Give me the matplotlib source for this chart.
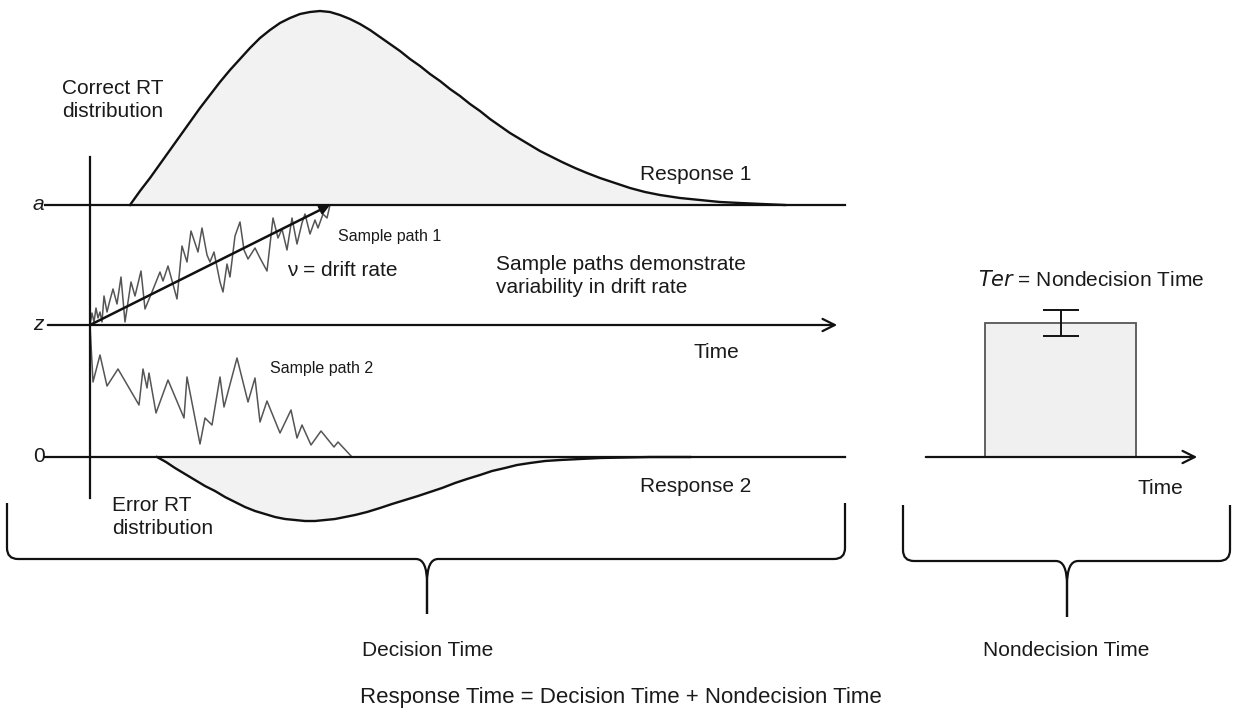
import matplotlib
matplotlib.use("Agg")
import matplotlib.pyplot as plt
from matplotlib.path import Path
from matplotlib.patches import PathPatch, Rectangle
import numpy as np

plt.rcParams['font.family'] = ['Liberation Sans', 'DejaVu Sans']

# everything is laid out in image pixel units (y grows downward)
# boundaries: a (upper), z (start point), 0 (lower)
bound_a = 205
bound_z = 325
bound_0 = 457

# correct RT distribution (upper curve)
correct_x = [130, 140, 150, 160, 170, 180, 190, 200, 210, 220, 230, 240, 250, 260, 270,
             280, 290, 300, 310, 320, 330, 340, 350, 360, 370, 380, 390, 400, 410, 420,
             430, 440, 450, 460, 470, 480, 490, 500, 510, 520, 530, 540, 550, 562, 575,
             587, 600, 615, 630, 645, 660, 680, 700, 720, 740, 762, 785]
correct_y = [205, 191, 178, 164, 150, 136, 122, 108, 95, 82, 70, 59, 48, 38, 30,
             23, 18, 14, 12, 11, 12, 15, 19, 24, 30, 37, 44, 51, 59, 66,
             74, 81, 89, 96, 104, 111, 119, 126, 133, 139, 145, 151, 156, 162, 168,
             173, 178, 183, 188, 192, 195, 198, 200, 202, 203, 204, 205]

# error RT distribution (lower curve)
error_x = [157, 166, 175, 185, 195, 205, 215, 225, 235, 245, 255, 265, 275, 285, 295,
           305, 315, 325, 335, 345, 355, 367, 380, 392, 405, 418, 430, 442, 455, 467,
           480, 492, 505, 517, 530, 545, 560, 580, 600, 625, 650, 670, 690]
error_y = [457, 462, 468, 474, 480, 486, 491, 497, 502, 507, 511, 514, 517, 519, 520,
           521, 521, 520, 519, 517, 515, 512, 508, 504, 500, 496, 492, 488, 483, 479,
           475, 471, 468, 465, 463, 461, 460, 459, 458, 457.5, 457, 457, 457]

# sample path 1 (hits upper boundary)
path1_x = [90, 92, 94, 96, 98, 100, 102, 104, 107, 110, 113, 117, 121, 125, 131, 135,
           141, 145, 152, 160, 163, 168, 177, 182, 187, 191, 198, 202, 207, 210, 214,
           220, 223, 227, 230, 235, 240, 244, 248, 255, 260, 267, 273, 278, 282, 287,
           292, 297, 302, 305, 310, 315, 318, 323, 327, 330]
path1_y = [325, 313, 322, 308, 318, 312, 322, 296, 312, 300, 289, 304, 277, 322, 282, 296,
           271, 309, 292, 272, 281, 266, 299, 246, 262, 231, 252, 228, 255, 262, 252,
           282, 292, 264, 277, 236, 222, 250, 259, 248, 258, 271, 218, 238, 229, 250,
           218, 244, 223, 214, 234, 220, 228, 214, 218, 205]

# sample path 2 (hits lower boundary)
path2_x = [90, 93, 100, 107, 118, 139, 143, 147, 149, 156, 168, 184, 187, 200, 205, 212,
           220, 224, 237, 248, 255, 260, 267, 280, 291, 297, 302, 311, 321, 334, 338, 352]
path2_y = [325, 382, 355, 386, 369, 405, 369, 388, 373, 413, 380, 418, 377, 444, 418, 425,
           377, 407, 358, 402, 378, 422, 401, 433, 410, 438, 425, 445, 431, 447, 442, 457]

# nondecision time bar (right panel)
ter_left = 985
ter_right = 1136
ter_top = 323
ter_err = 13

fig = plt.figure(figsize=(12.39, 7.15), dpi=100)
ax = fig.add_axes([0, 0, 1, 1])
ax.set_xlim(0, 1239)
ax.set_ylim(715, 0)
ax.axis('off')

fill_col = '#f2f2f2'
ink = '#111111'
txt = '#1a1a1a'

# distributions
ax.fill_between(correct_x, correct_y, bound_a, color=fill_col, zorder=1)
ax.plot(correct_x, correct_y, color=ink, lw=1.7, zorder=3, solid_joinstyle='round')
ax.fill_between(error_x, error_y, bound_0, color=fill_col, zorder=1)
ax.plot(error_x, error_y, color=ink, lw=1.7, zorder=3, solid_joinstyle='round')

# boundaries and axes
ax.plot([45, 845], [bound_a, bound_a], color=ink, lw=1.6, zorder=4)
ax.plot([45, 845], [bound_0, bound_0], color=ink, lw=1.6, zorder=4)
ax.annotate('', xy=(840, bound_z), xytext=(45, bound_z),
            arrowprops=dict(arrowstyle='->', color=ink, lw=1.6,
                            mutation_scale=22), zorder=4)
ax.plot([90, 90], [157, 498], color=ink, lw=1.6, zorder=4)

# sample paths
ax.plot(path1_x, path1_y, color='#555555', lw=1.1, zorder=2)
ax.plot(path2_x, path2_y, color='#555555', lw=1.1, zorder=2)

# drift rate arrow
ax.annotate('', xy=(path1_x[-1], path1_y[-1]), xytext=(path1_x[0], path1_y[0]),
            arrowprops=dict(arrowstyle='-|>', color=ink, lw=1.8,
                            mutation_scale=14, shrinkA=0, shrinkB=0), zorder=5)

# right panel
ax.annotate('', xy=(1200, bound_0), xytext=(923, bound_0),
            arrowprops=dict(arrowstyle='->', color=ink, lw=1.6,
                            mutation_scale=22), zorder=4)
ax.add_patch(Rectangle((ter_left, ter_top), ter_right - ter_left, bound_0 - ter_top,
                       facecolor='#f0f0f0', edgecolor='#555555', lw=1.3, zorder=2))
ter_mid = (ter_left + ter_right) / 2
ax.errorbar([ter_mid], [ter_top], yerr=[ter_err], fmt='none', ecolor=ink,
            elinewidth=1.4, capsize=13, capthick=1.4, zorder=5)


def brace(x0, x1, xm, ytop, ymid, ytip):
    r = 11
    left = [(x0, ytop), (x0, ymid - r), (x0, ymid), (x0 + r, ymid),
            (xm - 11, ymid), (xm, ymid), (xm, ymid + 24), (xm, ytip)]
    right = [(x1, ytop), (x1, ymid - r), (x1, ymid), (x1 - r, ymid),
             (xm + 11, ymid), (xm, ymid), (xm, ymid + 24), (xm, ytip)]
    codes = [Path.MOVETO, Path.LINETO, Path.CURVE3, Path.CURVE3,
             Path.LINETO, Path.CURVE3, Path.CURVE3, Path.LINETO]
    for v in (left, right):
        ax.add_patch(PathPatch(Path(v, codes), fill=False, edgecolor=ink, lw=1.6))


brace(7, 845, 427, 503, 559, 614)
brace(903, 1230, 1067, 505, 561, 617)

fs = 15
ax.text(62, 100, 'Correct RT\ndistribution', fontsize=fs, va='center', linespacing=1.25, color=txt)
ax.text(33, bound_a, 'a', fontsize=fs, style='italic', va='center', ha='left', color=txt)
ax.text(33, bound_z, 'z', fontsize=fs, style='italic', va='center', ha='left', color=txt)
ax.text(33, bound_0, '0', fontsize=fs, va='center', ha='left', color=txt)
ax.text(640, 175, 'Response 1', fontsize=fs, va='center', color=txt)
ax.text(338, 237, 'Sample path 1', fontsize=11.5, va='center', color=txt)
ax.text(287, 270, '\u03bd = drift rate', fontsize=fs, va='center', color=txt)
ax.text(496, 276, 'Sample paths demonstrate\nvariability in drift rate', fontsize=fs,
        va='center', linespacing=1.3, color=txt)
ax.text(694, 353, 'Time', fontsize=fs, va='center', color=txt)
ax.text(270, 368, 'Sample path 2', fontsize=11.5, va='center', color=txt)
ax.text(640, 487, 'Response 2', fontsize=fs, va='center', color=txt)
ax.text(112, 517, 'Error RT\ndistribution', fontsize=fs, va='center', linespacing=1.25, color=txt)
ax.text(1138, 488, 'Time', fontsize=fs, va='center', color=txt)
ax.text(978, 280, '$\\it{Ter}$ = Nondecision Time', fontsize=fs, va='center', color=txt)
ax.text(428, 650, 'Decision Time', fontsize=fs, va='center', ha='center', color=txt)
ax.text(1066, 650, 'Nondecision Time', fontsize=fs, va='center', ha='center', color=txt)
ax.text(621, 697, 'Response Time = Decision Time + Nondecision Time', fontsize=16,
        va='center', ha='center', color=txt)

plt.savefig('out.png', dpi=100)
